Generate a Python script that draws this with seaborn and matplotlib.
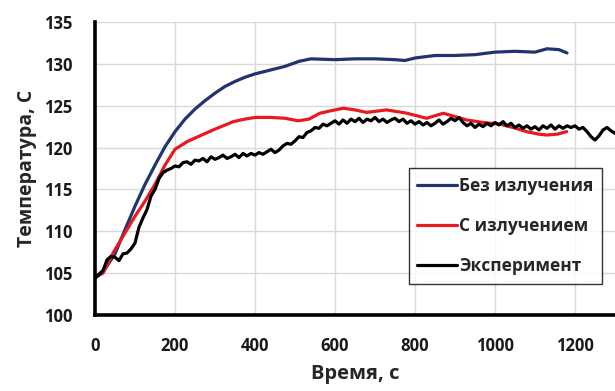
import numpy as np
import pandas as pd
import matplotlib
matplotlib.use("Agg")
import matplotlib.pyplot as plt
import seaborn as sns

# --- data ---
t_blue = [0, 25, 50, 75, 100, 125, 150, 175, 200, 225, 250, 275, 300, 325, 350, 375, 400,
          425, 450, 475, 510, 540, 600, 650, 700, 750, 775, 800, 850, 900, 950, 1000,
          1050, 1100, 1130, 1160, 1180]
T_blue = [104.5, 105.5, 107.3, 110.2, 113.0, 115.6, 117.9, 120.1, 121.9, 123.4, 124.6,
          125.6, 126.5, 127.3, 127.9, 128.4, 128.8, 129.1, 129.4, 129.7, 130.3, 130.6,
          130.5, 130.6, 130.6, 130.5, 130.4, 130.7, 131.0, 131.0, 131.1, 131.4, 131.5,
          131.4, 131.8, 131.7, 131.3]

t_red = [0, 20, 45, 75, 100, 125, 150, 175, 200, 230, 262, 300, 346, 375, 400, 440, 475,
         508, 535, 562, 590, 621, 650, 679, 729, 780, 829, 871, 929, 970, 1012, 1045, 1079,
         1110, 1129, 1155, 1179]
T_red = [104.5, 105.0, 107.4, 109.8, 111.8, 113.6, 115.6, 117.9, 119.8, 120.7, 121.4,
         122.2, 123.1, 123.4, 123.6, 123.6, 123.5, 123.2, 123.4, 124.1, 124.4, 124.7, 124.5,
         124.2, 124.5, 124.1, 123.5, 124.1, 123.3, 123.0, 122.8, 122.4, 121.9, 121.6, 121.5,
         121.6, 121.9]

t_black = list(range(0, 1310, 10))
T_black = [104.4, 104.8, 105.3, 106.6, 107.0, 106.9, 106.5, 107.3, 107.4, 107.9,
           108.6, 110.5, 111.6, 112.6, 114.2, 115.0, 116.3, 117.0, 117.3, 117.5,
           117.8, 117.7, 118.2, 118.3, 118.0, 118.5, 118.4, 118.7, 118.3, 118.9,
           118.6, 118.8, 119.1, 118.7, 118.9, 119.2, 118.8, 119.3, 119.0, 119.3,
           119.1, 119.4, 119.2, 119.5, 119.8, 119.4, 119.7, 120.2, 120.5, 120.4,
           120.8, 121.3, 121.2, 121.8, 122.0, 122.4, 122.3, 122.8, 122.6, 122.9,
           123.2, 122.8, 123.3, 122.9, 123.4, 123.1, 123.5, 123.0, 123.4, 123.2,
           123.6, 123.1, 123.4, 123.0, 123.3, 123.5, 123.1, 123.4, 122.9, 123.2,
           122.8, 123.1, 122.7, 123.0, 122.6, 122.9, 123.3, 122.8, 123.1, 123.5,
           123.2, 123.6, 123.0, 122.6, 122.9, 122.4, 122.8, 122.5, 122.9, 122.6,
           123.0, 122.7, 123.1, 122.6, 122.9, 122.4, 122.7, 122.3, 122.6, 122.2,
           122.5, 122.1, 122.6, 122.3, 122.7, 122.2, 122.6, 122.3, 122.6, 122.4,
           122.6, 122.2, 122.4, 121.9, 121.3, 120.9, 121.4, 122.1, 122.4, 122.0,
           121.7]

labels = ["Без излучения", "С излучением", "Эксперимент"]
colors = ["#1F3470", "#E8191F", "#000000"]
x_ticks = [0, 200, 400, 600, 800, 1000, 1200]
y_ticks = [100, 105, 110, 115, 120, 125, 130, 135]

sns.set_theme(style="white")
plt.rcParams["font.family"] = ["Open Sans", "DejaVu Sans"]
plt.rcParams["font.weight"] = "bold"

fig = plt.figure(figsize=(6.15, 3.91), dpi=100)
ax = fig.add_axes([95/615, 76/391, 520/615, 293/391])

sns.lineplot(x=t_blue, y=T_blue, ax=ax, color=colors[0], lw=2.3, label=labels[0])
sns.lineplot(x=t_red, y=T_red, ax=ax, color=colors[1], lw=2.3, label=labels[1])
sns.lineplot(x=t_black, y=T_black, ax=ax, color=colors[2], lw=2.3, label=labels[2])

ax.set_xlim(0, 1300)
ax.set_ylim(100, 135)
ax.set_xticks(x_ticks)
ax.set_yticks(y_ticks)
ax.grid(True, color="#D9D9D9", lw=1)
ax.set_axisbelow(True)
for s in ["top", "right"]:
    ax.spines[s].set_visible(False)
for s in ["left", "bottom"]:
    ax.spines[s].set_color("black")
    ax.spines[s].set_linewidth(2.6)
ax.tick_params(axis="both", length=0, labelsize=12, colors="#1a1a1a")
ax.tick_params(axis="y", pad=16.5)
ax.tick_params(axis="x", pad=15.5)
for lab in ax.get_xticklabels() + ax.get_yticklabels():
    lab.set_fontweight("bold")

ax.set_xlabel("Время, с", fontsize=14.5, fontweight="bold", labelpad=7)
ax.set_ylabel("Температура, С", fontsize=14, fontweight="bold", labelpad=5)

leg = ax.legend(loc="upper right", bbox_to_anchor=(0.975, 0.502), frameon=True,
                fancybox=False, edgecolor="black", fontsize=12.5, handlelength=2.3,
                handletextpad=0.1, labelspacing=1.28, borderpad=0.5, borderaxespad=0)
leg.get_frame().set_linewidth(1.0)
for txt in leg.get_texts():
    txt.set_fontweight("bold")

fig.savefig("out.png", dpi=100)
